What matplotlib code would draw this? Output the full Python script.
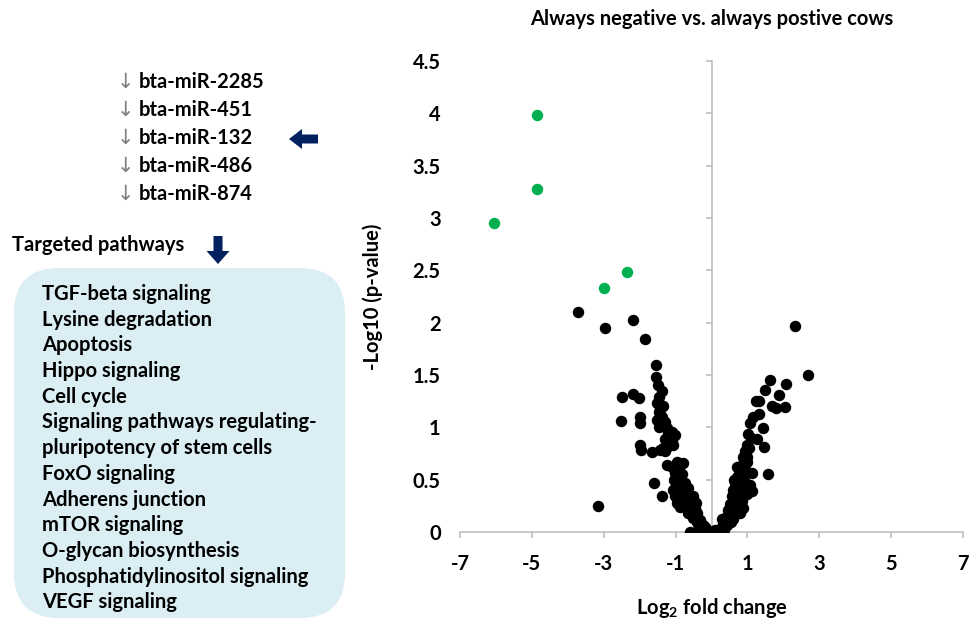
import matplotlib
matplotlib.use("Agg")
import matplotlib.pyplot as plt
from matplotlib.patches import FancyBboxPatch, FancyArrow

plt.rcParams['font.family'] = ['Lato', 'DejaVu Sans']
plt.rcParams['font.weight'] = 'bold'
plt.rcParams['axes.labelweight'] = 'bold'
plt.rcParams['axes.titleweight'] = 'bold'
plt.rcParams['axes.unicode_minus'] = False
plt.rcParams['mathtext.fontset'] = 'custom'
plt.rcParams['mathtext.rm'] = 'Lato:bold'
plt.rcParams['mathtext.it'] = 'Lato:bold'
plt.rcParams['mathtext.bf'] = 'Lato:bold'

# miRNAs and pathways (left panel)
mirnas = ["bta-miR-2285", "bta-miR-451", "bta-miR-132", "bta-miR-486", "bta-miR-874"]
pathways = ["TGF-beta signaling", "Lysine degradation", "Apoptosis", "Hippo signaling",
            "Cell cycle", "Signaling pathways regulating-", "pluripotency of stem cells",
            "FoxO signaling", "Adherens junction", "mTOR signaling", "O-glycan biosynthesis",
            "Phosphatidylinositol signaling", "VEGF signaling"]

# significant miRNAs (green)
logfc_sig = [-4.86, -4.86, -6.05, -2.34, -2.99]
neglogp_sig = [3.98, 3.28, 2.95, 2.48, 2.33]

# other miRNAs (black)
logfc_other = [
    -3.71, -2.97, -2.18, -1.84, -1.54, -1.54, -1.39, -1.45, -2.50, -2.18, -2.01,
    -1.51, -1.43, -1.39, -2.52, -1.99, -1.99, -1.53, -1.39, -1.25, -1.11, -1.02,
    -1.29, -1.16, -1.06, -1.99, -1.97, -1.66, -1.43, -1.25, -1.25, -0.95, -0.78,
    -1.02, -0.88, -0.74, -0.65, -0.51, -1.60, -1.37, -1.02, -0.88,
    -0.60, -0.41, -0.32, -0.18, -0.09, -0.60, -3.16,
    -0.92, -0.83, -0.74, -0.69, -0.55, -0.46, -0.88, -0.78, -0.65, -0.51, -0.37, -0.27, -0.18,
    -1.50, -1.47, -1.35, -1.30, -1.45, -1.20, -1.15, -1.10, -1.30, -1.35,
    -1.10, -1.05, -0.98, -0.95, -0.90, -0.82, -0.80, -0.70, -0.72, -0.62, -0.58, -0.52,
    -0.45, -0.40, -0.35, -0.30, -0.25, -0.22, -0.12, -0.05, -0.42, -0.48, -0.96, -1.08,
    2.32, 2.69, 1.63, 2.07, 1.49, 1.88, 1.24, 1.33, 1.68, 1.79, 2.05, 1.33, 1.15, 1.07,
    1.44, 1.02, 1.26, 1.46,
    0.98, 0.93, 0.88, 0.98, 0.84, 0.77, 0.70, 0.65, 0.61, 0.56, 0.51, 0.47, 0.42, 0.33, 0.24, 0.14,
    1.12, 1.58, 1.07, 1.12, 0.88,
    0.75, 0.79, 0.70, 0.65, 0.56, 0.47, 0.38, 0.28, 0.84, 0.75, 0.61, 0.51, 0.42,
    0.90, 0.95, 1.00, 0.92, 0.85, 0.68, 0.60, 0.35, 0.20, 0.10, 0.05, 0.00, 0.30, 0.55,
    0.78, 1.00, 0.72, 0.62, 1.05, 1.10, 0.82,
]
neglogp_other = [
    2.10, 1.95, 2.03, 1.84, 1.60, 1.48, 1.35, 1.29, 1.29, 1.32, 1.28,
    1.23, 1.17, 1.10, 1.06, 1.10, 1.04, 1.07, 1.02, 0.99, 0.96, 0.93,
    0.89, 0.86, 0.83, 0.83, 0.78, 0.76, 0.78, 0.81, 0.64, 0.67, 0.66,
    0.56, 0.51, 0.47, 0.42, 0.34, 0.47, 0.34, 0.34, 0.24,
    0.24, 0.18, 0.11, 0.05, 0.00, 0.00, 0.25,
    0.45, 0.40, 0.37, 0.31, 0.27, 0.23, 0.34, 0.29, 0.18, 0.13, 0.08, 0.04, 0.00,
    1.40, 1.15, 1.20, 1.05, 1.00, 0.95, 0.90, 0.88, 0.77, 0.80,
    0.62, 0.50, 0.45, 0.40, 0.58, 0.55, 0.46, 0.40, 0.30, 0.33, 0.22, 0.20,
    0.15, 0.10, 0.05, 0.02, 0.07, 0.02, 0.02, 0.00, 0.28, 0.30, 0.28, 0.40,
    1.97, 1.50, 1.45, 1.41, 1.36, 1.31, 1.25, 1.25, 1.20, 1.18, 1.19, 1.13, 1.10, 1.04,
    0.99, 0.94, 0.89, 0.81,
    0.83, 0.77, 0.72, 0.67, 0.64, 0.59, 0.53, 0.47, 0.40, 0.34, 0.27, 0.21, 0.15, 0.08, 0.03, 0.00,
    0.56, 0.55, 0.45, 0.39, 0.23,
    0.47, 0.40, 0.37, 0.29, 0.24, 0.15, 0.11, 0.05, 0.34, 0.27, 0.19, 0.13, 0.07,
    0.50, 0.58, 0.72, 0.42, 0.30, 0.20, 0.12, 0.02, 0.01, 0.02, 0.00, 0.00, 0.12, 0.10,
    0.18, 0.36, 0.62, 0.50, 0.80, 0.90, 0.52,
]

W, H = 971, 623
fig = plt.figure(figsize=(W / 100, H / 100), dpi=100)

# overlay in pixel coords for the left panel
ov = fig.add_axes([0, 0, 1, 1])
ov.set_xlim(0, W)
ov.set_ylim(H, 0)
ov.axis('off')

navy = '#002060'
fs = 14.5

for i, m in enumerate(mirnas):
    y = 82 + i * 28
    ov.text(125, y, "↓", color='#808080', fontsize=15, ha='center', va='center',
            fontweight='normal', family=['DejaVu Sans'])
    ov.text(139, y, m, fontsize=fs, ha='left', va='center', fontweight='bold')

ov.add_patch(FancyArrow(318, 139, -16, 0, width=9, head_width=20, head_length=13,
                        length_includes_head=False, color=navy, lw=0))
ov.text(12, 245, "Targeted pathways", fontsize=fs, ha='left', va='center', fontweight='bold')
ov.add_patch(FancyArrow(218, 236, 0, 15, width=9, head_width=23, head_length=13,
                        length_includes_head=False, color=navy, lw=0))

ov.add_patch(FancyBboxPatch((14, 268), 331, 350, boxstyle="round,pad=0,rounding_size=45",
                            facecolor='#DAEEF3', edgecolor='none'))
for i, p in enumerate(pathways):
    ov.text(42, 294 + i * 25.7, p, fontsize=fs, ha='left', va='center', fontweight='bold')

# volcano plot
ax = fig.add_axes([460 / W, 1 - 532 / H, 503 / W, 471 / H])
ax.patch.set_alpha(0)
ax.scatter(logfc_other, neglogp_other, s=68, color='black', zorder=3, lw=0)
ax.scatter(logfc_sig, neglogp_sig, s=68, color='#00B050', zorder=3, lw=0)

ax.set_xlim(-7, 7)
ax.set_ylim(0, 4.5)
ax.set_xticks(range(-7, 8, 2))
ax.set_yticks([0, 0.5, 1, 1.5, 2, 2.5, 3, 3.5, 4, 4.5])
ax.set_yticklabels(['0', '0.5', '1', '1.5', '2', '2.5', '3', '3.5', '4', '4.5'])

for s in ['top', 'right']:
    ax.spines[s].set_visible(False)
ax.spines['left'].set_position(('data', 0))
ax.spines['left'].set_color('#BFBFBF')
ax.spines['bottom'].set_color('#BFBFBF')
ax.spines['left'].set_linewidth(1.2)
ax.spines['bottom'].set_linewidth(1.2)
ax.tick_params(axis='x', direction='out', length=4, color='#BFBFBF', width=1.2,
               labelsize=fs, pad=12)
ax.tick_params(axis='y', direction='out', length=4, color='#BFBFBF', width=1.2,
               labelsize=fs, pad=191)
for lab in ax.get_xticklabels() + ax.get_yticklabels():
    lab.set_fontweight('bold')

ax.set_xlabel(r"Log$_2$ fold change", fontsize=fs, fontweight='bold')
ax.xaxis.set_label_coords(0.5, -0.135)
ax.set_ylabel("-Log10 (p-value)", fontsize=fs, fontweight='bold')
ax.yaxis.set_label_coords(-0.153, 0.5)
ax.set_title("Always negative vs. always postive cows", fontsize=fs, fontweight='bold', pad=26)

fig.savefig("out.png", dpi=100)
